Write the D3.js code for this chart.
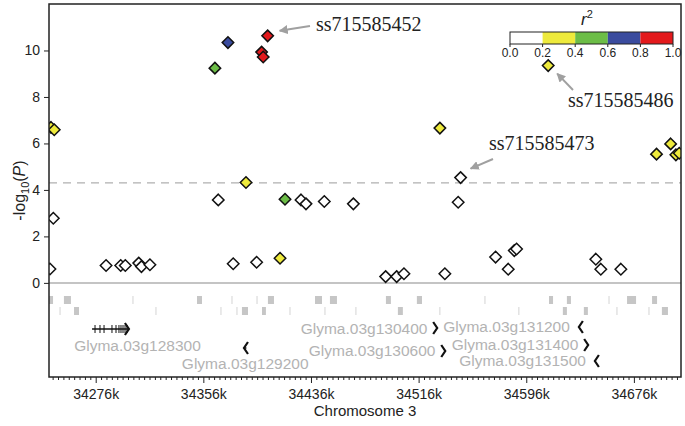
<!DOCTYPE html>
<html><head><meta charset="utf-8">
<script src="https://cdn.jsdelivr.net/npm/d3@7"></script>
<style>body{margin:0;background:#fff}</style>
</head><body><svg id="c" width="685" height="426"></svg>
<script>
// ---------- data ----------
const snpPos = [34242.0,34244.5,34242.8,34245.2,34283.7,34294.6,34298.0,34308.0,34310.0,34316.3,
  34364.6,34374.3,34367.1,34378.2,34387.7,34399.3,34400.5,34403.8,34395.6,34413.0,
  34416.7,34428.6,34432.3,34445.9,34467.5,34491.5,34499.7,34505.1,34535.5,34531.8,
  34547.2,34545.4,34612.3,34573.2,34582.6,34587.1,34588.8,34647.7,34651.4,34666.3,
  34692.8,34703.3,34707.2,34709.7];
const snpLogP = [0.60,2.78,6.69,6.59,0.75,0.75,0.75,0.85,0.70,0.78,
  9.24,10.34,3.57,0.82,4.32,9.93,9.72,10.63,0.89,1.06,
  3.60,3.57,3.40,3.50,3.40,0.27,0.27,0.39,0.39,6.66,
  4.53,3.47,9.35,1.11,0.59,1.39,1.46,1.02,0.59,0.59,
  5.54,5.98,5.51,5.58];
const snpR2 = [0.1,0.1,0.3,0.3,0.1,0.1,0.1,0.1,0.1,0.1,
  0.5,0.7,0.1,0.1,0.3,0.9,0.9,1.0,0.1,0.3,
  0.5,0.1,0.1,0.1,0.1,0.1,0.1,0.1,0.1,0.3,
  0.1,0.1,0.3,0.1,0.1,0.1,0.1,0.1,0.1,0.1,
  0.3,0.3,0.3,0.3];
const r2Breaks = [0.0,0.2,0.4,0.6,0.8,1.0];
const r2Colors = ["#ffffff","#eeea3c","#6cbd47","#3a4b9e","#e3191c"];
const xTicks = [34276,34356,34436,34516,34596,34676];
const yTicks = [0,2,4,6,8,10];
const sigThreshold = 4.3;
const annotNames = ["ss715585452","ss715585486","ss715585473"];
const annotIdx = [17,32,30];
// feature track (kb start, kb end)
const track1Start = [34241.3,34252.4,34303.7,34351.3,34377.3,34395.9,34404.0,34439.0,34450.1,34491.7,34514.7,34565.3,34612.9,34626.2,34657.5,34670.9,34689.5];
const track1End   = [34244.3,34257.6,34303.7,34355.0,34377.3,34395.9,34408.5,34444.2,34455.3,34495.4,34518.5,34565.3,34615.9,34629.2,34657.5,34677.6,34693.2];
const track2Start = [34249.5,34259.9,34320.8,34369.1,34381.0,34384.7,34399.6,34420.4,34446.4,34469.4,34500.6,34531.8,34590.5,34623.2,34638.8,34663.4,34687.2,34696.8];
const track2End   = [34249.5,34263.6,34320.8,34369.1,34381.0,34389.2,34402.5,34420.4,34446.4,34469.4,34504.3,34531.8,34590.5,34626.2,34641.8,34663.4,34687.2,34701.3];
// genes
const geneNames  = ["Glyma.03g128300","Glyma.03g129200","Glyma.03g130400","Glyma.03g130600","Glyma.03g131200","Glyma.03g131400","Glyma.03g131500"];
const geneStart  = [34273.3,34386.2,34529.2,34535.2,34635.1,34641.4,34647.0];
const geneEnd    = [34300.7,34388.0,34529.8,34535.8,34635.7,34642.0,34647.6];
const geneStrand = ["+","-","+","+","-","+","-"];
const exons128300 = [34275.5,34279.2,34282.2,34288.1,34291.1,34293.3,34294.8,34296.3,34297.8,34299.3];

// ---------- layout ----------
const L=49,R=681,T=4,B=377;
const svg=d3.select("#c");
const x=d3.scaleLinear().domain([34241.3,34711.0]).range([L,R]);
const y=d3.scaleLinear().domain([-4.05,12.0]).range([B,T]);
const col=d3.scaleThreshold().domain(r2Breaks.slice(1,5)).range(r2Colors);
const sans="'Liberation Sans', Arial, Helvetica, sans-serif";
const serif="'Liberation Serif', 'Times New Roman', serif";

svg.append("defs").append("clipPath").attr("id","clip")
  .append("rect").attr("x",L).attr("y",T).attr("width",R-L).attr("height",B-T);
svg.select("defs").append("marker").attr("id","ah").attr("viewBox","0 0 10 10")
  .attr("refX",9).attr("refY",5).attr("markerWidth",4.5).attr("markerHeight",4.5)
  .attr("orient","auto").append("path").attr("d","M0,0L10,5L0,10z").attr("fill","#a0a0a0");

const g=svg.append("g").attr("clip-path","url(#clip)");

// reference lines
g.append("line").attr("x1",L).attr("x2",R).attr("y1",y(0)).attr("y2",y(0))
  .attr("stroke","#b0b0b0").attr("stroke-width",1.5);
g.append("line").attr("x1",L).attr("x2",R).attr("y1",y(sigThreshold)).attr("y2",y(sigThreshold))
  .attr("stroke","#b0b0b0").attr("stroke-width",1.3).attr("stroke-dasharray","8,6");

// feature tracks
function track(starts,ends,yy){
  starts.forEach((s,i)=>{
    const w=x(ends[i])-x(s);
    const thin=w<1;
    g.append("rect").attr("x",thin?x(s)-0.5:x(s)).attr("y",yy)
      .attr("width",thin?1:w).attr("height",8)
      .attr("fill",thin?"#d4d4d4":"#c6c6c6");
  });
}
track(track1Start,track1End,296);
track(track2Start,track2End,307);

// genes
const geneRowY=[329,348,328,351,327,345,361];
const labelMode=["below","below","left","left","left","left","left"];
const labelY=[346,364,329,351,327,345,361];
const labelDx=[27,0,0,0,0,0,0];
geneNames.forEach((n,i)=>{
  const gy=geneRowY[i], x0=x(geneStart[i]), x1=x(geneEnd[i]);
  g.append("line").attr("x1",x0).attr("x2",x1).attr("y1",gy).attr("y2",gy)
    .attr("stroke","#111").attr("stroke-width",1.5);
  const tip = geneStrand[i]==="+"?x1:x0, d = geneStrand[i]==="+"?-1:1;
  g.append("path").attr("d",`M${tip+d*4},${gy-6}L${tip},${gy}L${tip+d*4},${gy+6}`)
    .attr("fill","none").attr("stroke","#111").attr("stroke-width",2.2);
  const t=g.append("text").text(n).attr("fill","#b3b3b3")
    .style("font-family",sans).style("font-size","15.5px")
    .attr("y",labelY[i]).attr("dy","0.35em");
  if(labelMode[i]==="below") t.attr("x",(x0+x1)/2+labelDx[i]).attr("text-anchor","middle");
  else t.attr("x",Math.min(x0,x1)-9).attr("text-anchor","end");
});
exons128300.forEach(e=>{
  g.append("line").attr("x1",x(e)).attr("x2",x(e)).attr("y1",geneRowY[0]-4).attr("y2",geneRowY[0]+4)
    .attr("stroke","#111").attr("stroke-width",1);
});

// points
const sym=d3.symbol().type(d3.symbolDiamond2).size(84);
snpPos.forEach((p,i)=>{
  g.append("path").attr("d",sym).attr("transform",`translate(${x(p)},${y(snpLogP[i])})`)
    .attr("fill",col(snpR2[i])).attr("stroke","#111").attr("stroke-width",1.5);
});

// frame
svg.append("rect").attr("x",L).attr("y",T).attr("width",R-L).attr("height",B-T)
  .attr("fill","none").attr("stroke","#222").attr("stroke-width",1.5);

// axes
const xa=svg.append("g").attr("transform",`translate(0,${B})`)
  .call(d3.axisBottom(x).tickValues(xTicks).tickFormat(d=>d+"k").tickSize(6).tickPadding(6));
const minor=d3.range(34244,34712,4).filter(v=>!xTicks.includes(v));
svg.append("g").attr("transform",`translate(0,${B})`)
  .call(d3.axisBottom(x).tickValues(minor).tickFormat("").tickSize(3))
  .select(".domain").remove();
xa.select(".domain").remove();
const ya=svg.append("g").attr("transform",`translate(${L},0)`)
  .call(d3.axisLeft(y).tickValues(yTicks).tickSize(5).tickPadding(4));
ya.select(".domain").remove();
svg.selectAll(".tick text").style("font-family",sans).style("font-size","14px").attr("fill","#222");
svg.selectAll(".tick line").attr("stroke","#222");

svg.append("text").attr("x",(L+R)/2).attr("y",416).attr("text-anchor","middle")
  .style("font-family",sans).style("font-size","15px").attr("fill","#222").text("Chromosome 3");
const yl=svg.append("text").attr("transform",`translate(25,${(T+B)/2}) rotate(-90)`)
  .attr("text-anchor","middle").style("font-family",sans).style("font-size","16px").attr("fill","#222");
yl.append("tspan").text("-log");
yl.append("tspan").text("10").style("font-size","11px").attr("dy",4);
yl.append("tspan").text("(").attr("dy",-4);
yl.append("tspan").text("P").style("font-style","italic");
yl.append("tspan").text(")");

// legend
const lx=d3.scaleLinear().domain([0,1]).range([510,673]);
const lg=svg.append("g");
r2Colors.forEach((c,i)=>{
  lg.append("rect").attr("x",lx(r2Breaks[i])).attr("y",32).attr("width",lx(r2Breaks[i+1])-lx(r2Breaks[i])).attr("height",12)
    .attr("fill",c);
});
lg.append("rect").attr("x",510).attr("y",32).attr("width",163).attr("height",12).attr("fill","none").attr("stroke","#222").attr("stroke-width",1);
r2Breaks.forEach(b=>{
  lg.append("line").attr("x1",lx(b)).attr("x2",lx(b)).attr("y1",44).attr("y2",47).attr("stroke","#222");
  lg.append("text").attr("x",lx(b)).attr("y",53).attr("dy","0.35em").attr("text-anchor","middle")
    .style("font-family",sans).style("font-size","12px").attr("fill","#222").text(b.toFixed(1));
});
const rt=lg.append("text").attr("x",587).attr("y",25).attr("text-anchor","middle")
  .style("font-family",sans).style("font-size","17px").attr("fill","#222");
rt.append("tspan").text("r").style("font-style","italic");
rt.append("tspan").text("2").style("font-size","11px").attr("dy",-7);

// annotations
const annotText=[[316,31],[568,107],[489,150]];
const annotTail=[[310,26],[573,90],[493,159]];
const annotTipOff=[[12,-5],[9,8],[10,-9]];
annotIdx.forEach((k,i)=>{
  const px=x(snpPos[k]), py=y(snpLogP[k]);
  svg.append("line").attr("x1",annotTail[i][0]).attr("y1",annotTail[i][1])
    .attr("x2",px+annotTipOff[i][0]).attr("y2",py+annotTipOff[i][1])
    .attr("stroke","#a0a0a0").attr("stroke-width",2).attr("marker-end","url(#ah)");
  svg.append("text").attr("x",annotText[i][0]).attr("y",annotText[i][1])
    .style("font-family",serif).style("font-size","20px").attr("fill","#222").text(annotNames[i]);
});
</script></body></html>
